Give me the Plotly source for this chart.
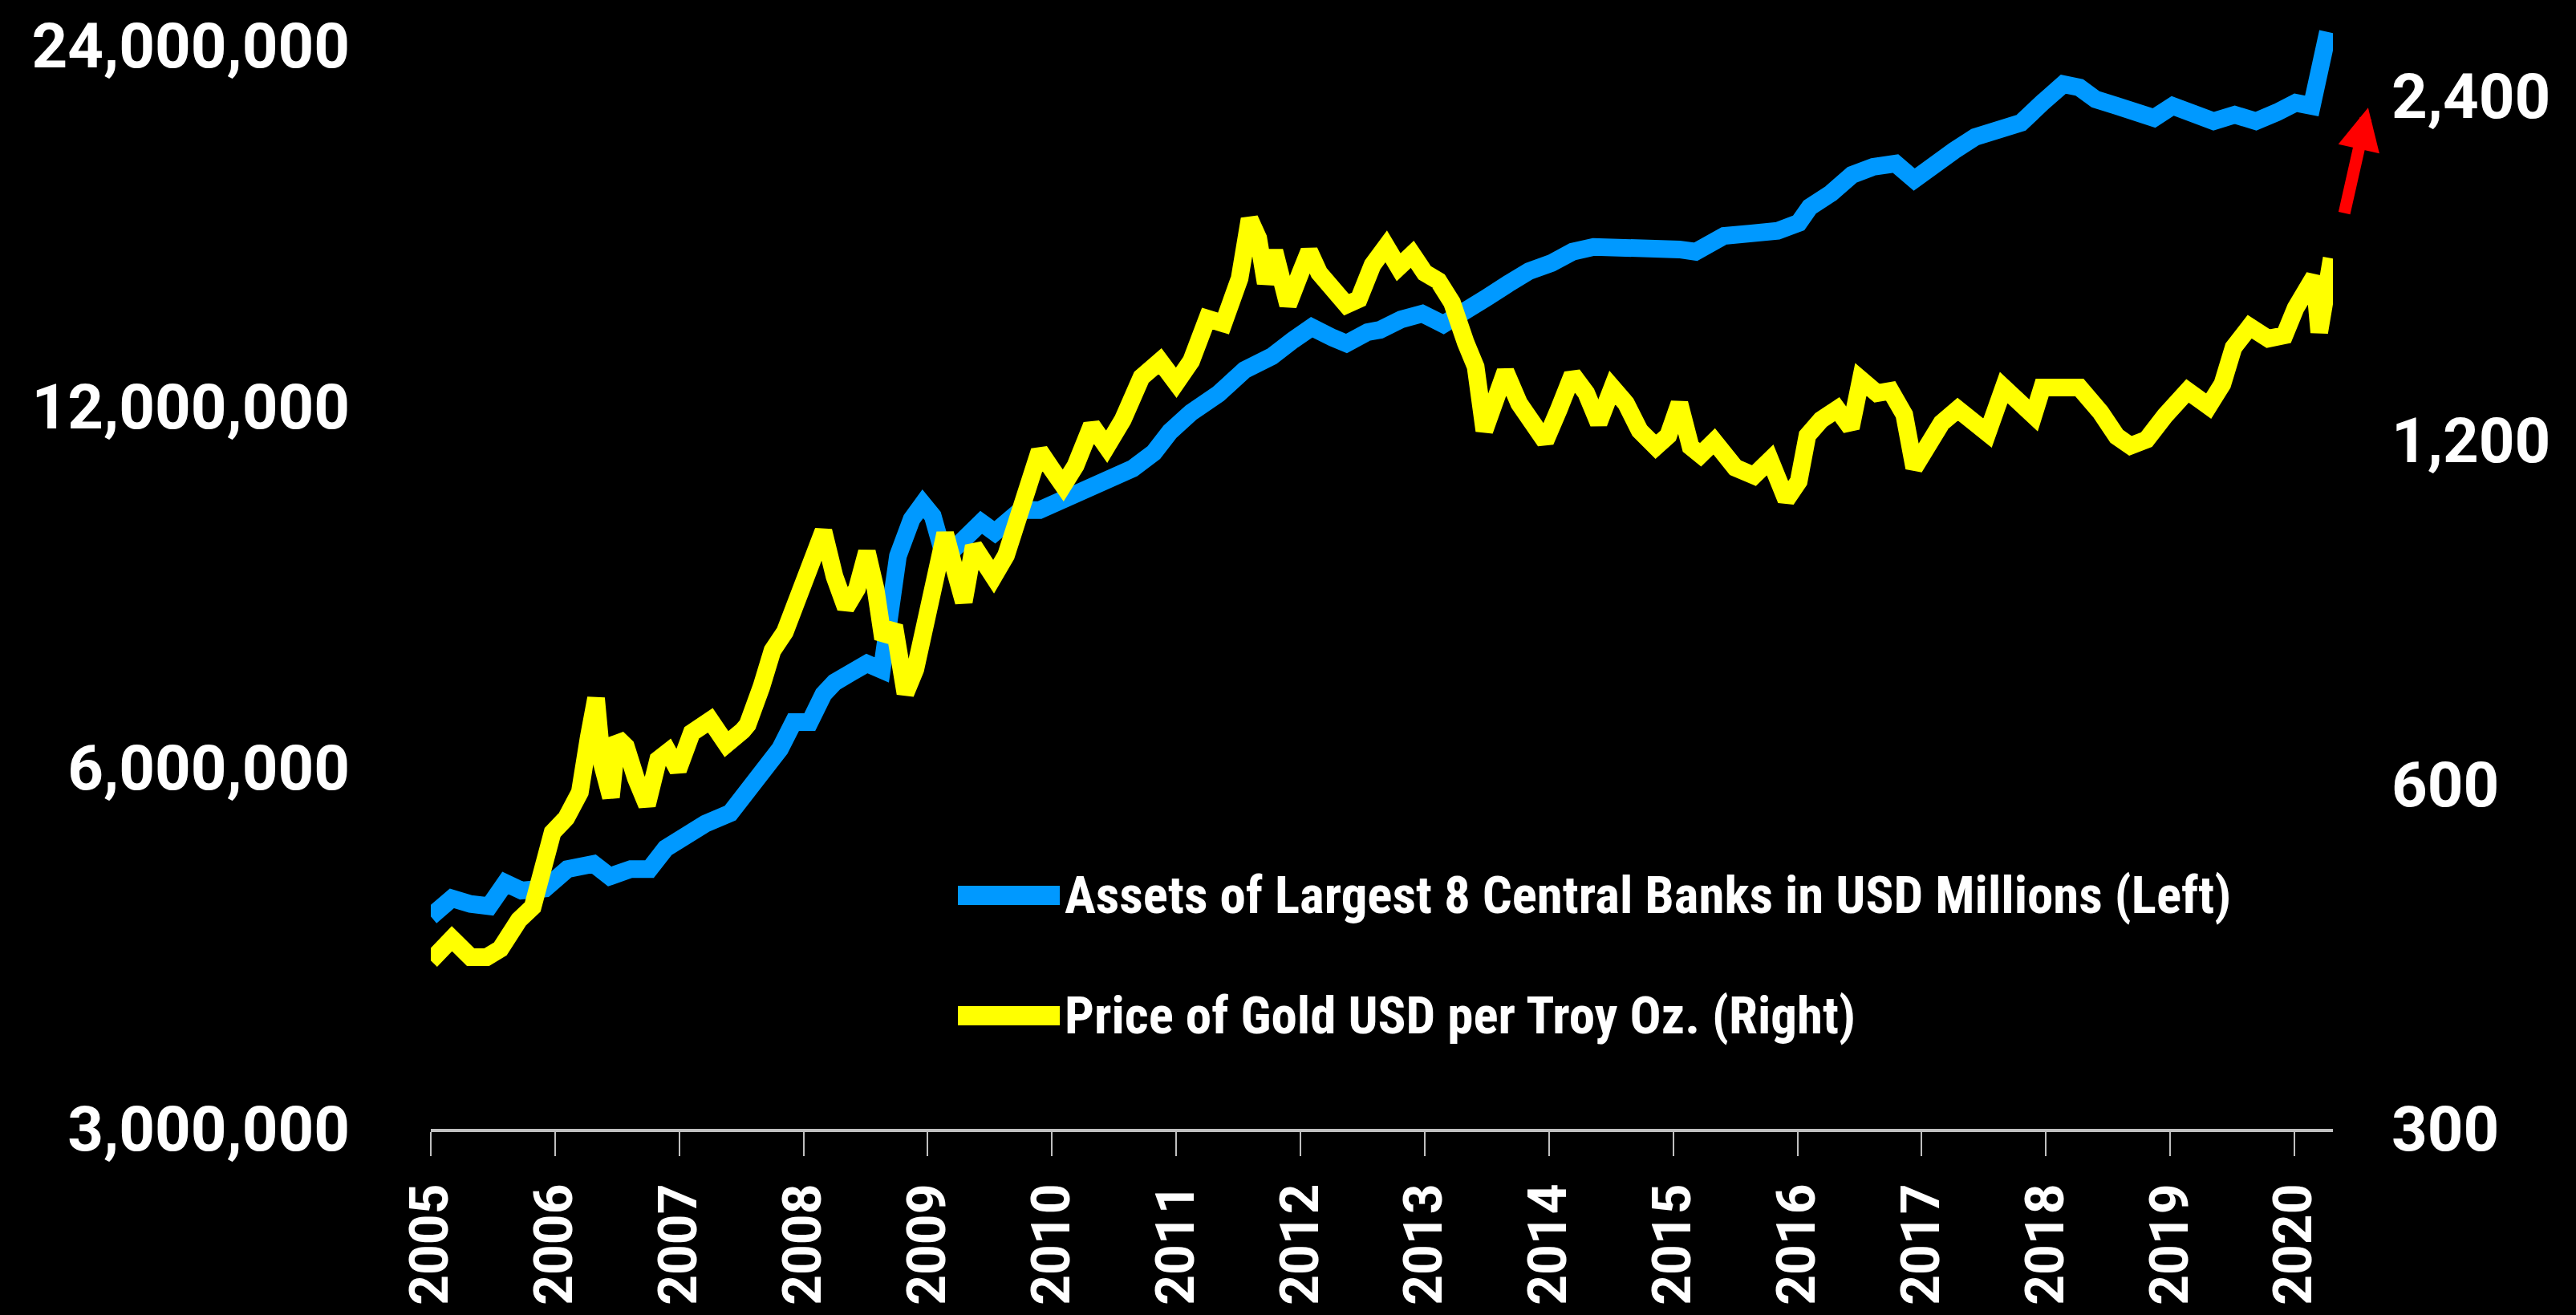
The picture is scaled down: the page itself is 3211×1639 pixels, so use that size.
import plotly.graph_objects as go

# Assets of the largest 8 central banks, USD millions (left axis)
asset_dates = [
    2005.00, 2005.17, 2005.32, 2005.47, 2005.60, 2005.73, 2005.92, 2006.10, 2006.31, 2006.44,
    2006.61, 2006.76, 2006.89, 2007.04, 2007.21, 2007.41, 2007.60, 2007.69, 2007.81, 2007.92,
    2008.05, 2008.16, 2008.25, 2008.38, 2008.51, 2008.63, 2008.70, 2008.76, 2008.87, 2008.96,
    2009.04, 2009.11, 2009.20, 2009.30, 2009.43, 2009.54, 2009.65, 2009.75, 2009.90, 2010.07,
    2010.22, 2010.44, 2010.65, 2010.82, 2010.95, 2011.12, 2011.34, 2011.55, 2011.77, 2011.94,
    2012.09, 2012.26, 2012.37, 2012.54, 2012.64, 2012.81, 2012.98, 2013.15, 2013.33, 2013.50,
    2013.67, 2013.84, 2014.02, 2014.19, 2014.36, 2014.54, 2014.71, 2014.88, 2015.05, 2015.18,
    2015.27, 2015.41, 2015.63, 2015.84, 2016.01, 2016.10, 2016.27, 2016.44, 2016.61, 2016.79,
    2016.94, 2017.09, 2017.26, 2017.43, 2017.60, 2017.80, 2017.97, 2018.14, 2018.27, 2018.40,
    2018.57, 2018.74, 2018.87, 2019.02, 2019.17, 2019.35, 2019.52, 2019.69, 2019.86, 2020.01,
    2020.14, 2020.20, 2020.24, 2020.27,
]
asset_values = [
    4510000, 4670000, 4620000, 4600000, 4810000, 4740000, 4760000, 4940000, 4990000, 4870000,
    4940000, 4940000, 5140000, 5260000, 5390000, 5500000, 5800000, 6010000, 6220000, 6550000,
    6550000, 6910000, 7070000, 7200000, 7330000, 7240000, 8000000, 9010000, 9670000, 9960000,
    9730000, 9170000, 9110000, 9340000, 9610000, 9430000, 9670000, 9840000, 9840000, 10020000,
    10110000, 10330000, 10660000, 10990000, 11440000, 11870000, 12300000, 12880000, 13220000, 13640000,
    13980000, 13700000, 13550000, 13850000, 13910000, 14190000, 14350000, 14060000, 14500000, 14800000,
    15190000, 15570000, 15810000, 16160000, 16310000, 16310000, 16310000, 16230000, 16230000, 16160000,
    16400000, 16660000, 16740000, 16820000, 17080000, 17610000, 18080000, 18730000, 19020000, 19140000,
    18560000, 19140000, 19620000, 20140000, 20450000, 20700000, 21510000, 22290000, 22150000, 21650000,
    21380000, 21120000, 20890000, 21380000, 21120000, 20760000, 21020000, 20760000, 21120000, 21510000,
    21380000, 22530000, 23930000, 24640000,
]

# Price of gold, USD per troy ounce (right axis)
gold_dates = [
    2005.00, 2005.17, 2005.32, 2005.45, 2005.56, 2005.71, 2005.82, 2005.90, 2005.98, 2006.09,
    2006.20, 2006.27, 2006.33, 2006.38, 2006.45, 2006.50, 2006.57, 2006.65, 2006.74, 2006.83,
    2006.91, 2006.99, 2007.10, 2007.25, 2007.38, 2007.51, 2007.55, 2007.66, 2007.75, 2007.85,
    2007.96, 2008.07, 2008.16, 2008.25, 2008.34, 2008.43, 2008.51, 2008.58, 2008.64, 2008.73,
    2008.82, 2008.90, 2008.99, 2009.08, 2009.14, 2009.20, 2009.29, 2009.37, 2009.46, 2009.53,
    2009.63, 2009.74, 2009.83, 2009.90, 2010.00, 2010.09, 2010.19, 2010.32, 2010.44, 2010.57,
    2010.72, 2010.87, 2011.00, 2011.12, 2011.25, 2011.38, 2011.51, 2011.59, 2011.66, 2011.72,
    2011.79, 2011.90, 2012.00, 2012.07, 2012.15, 2012.26, 2012.37, 2012.47, 2012.58, 2012.69,
    2012.79, 2012.90, 2013.00, 2013.11, 2013.22, 2013.33, 2013.41, 2013.48, 2013.57, 2013.65,
    2013.76, 2013.86, 2013.97, 2014.08, 2014.19, 2014.30, 2014.40, 2014.51, 2014.62, 2014.73,
    2014.86, 2014.96, 2015.05, 2015.14, 2015.22, 2015.33, 2015.50, 2015.65, 2015.78, 2015.91,
    2016.01, 2016.08, 2016.19, 2016.32, 2016.43, 2016.51, 2016.64, 2016.75, 2016.86, 2016.94,
    2017.05, 2017.16, 2017.29, 2017.42, 2017.53, 2017.66, 2017.81, 2017.90, 2017.97, 2018.12,
    2018.27, 2018.44, 2018.57, 2018.68, 2018.81, 2018.96, 2019.14, 2019.31, 2019.42, 2019.51,
    2019.64, 2019.79, 2019.92, 2020.01, 2020.10, 2020.16, 2020.20, 2020.27, 2020.30,
]
gold_prices = [
    421, 440, 424, 424, 431, 457, 469, 503, 545, 561,
    591, 659, 714, 625, 585, 659, 648, 608, 576, 631,
    641, 618, 666, 683, 651, 669, 677, 730, 786, 816,
    878, 940, 1000, 912, 857, 890, 959, 890, 805, 826,
    721, 757, 841, 952, 995, 940, 867, 970, 934, 912,
    952, 1037, 1110, 1175, 1132, 1096, 1141, 1237, 1185, 1251,
    1363, 1408, 1348, 1408, 1534, 1519, 1663, 1874, 1803, 1647,
    1757, 1577, 1682, 1757, 1682, 1621, 1577, 1595, 1709, 1774,
    1701, 1746, 1682, 1655, 1584, 1461, 1392, 1224, 1320, 1379,
    1293, 1243, 1198, 1278, 1370, 1320, 1243, 1335, 1293, 1224,
    1185, 1212, 1293, 1185, 1166, 1198, 1136, 1118, 1154, 1065,
    1105, 1212, 1251, 1278, 1231, 1357, 1320, 1326, 1264, 1136,
    1198, 1243, 1278, 1251, 1218, 1335, 1293, 1262, 1335, 1335,
    1335, 1270, 1210, 1187, 1202, 1262, 1326, 1286, 1344, 1447,
    1509, 1473, 1483, 1567, 1618, 1669, 1492, 1669, 1732,
]

years = list(range(2005, 2021))
left_ticks = [3000000, 6000000, 12000000, 24000000]
right_ticks = [300, 600, 1200, 2400]

asset_name = 'Assets of Largest 8 Central Banks in USD Millions (Left)'
gold_name = 'Price of Gold USD per Troy Oz. (Right)'

BLUE = '#0099FF'
YELLOW = '#FFFF00'
NUM_FONT = 'Roboto, Arial, sans-serif'
TEXT_FONT = 'Liberation Sans Narrow, Roboto Condensed, Roboto, sans-serif'

fig = go.Figure()

fig.add_trace(go.Scatter(
    x=asset_dates, y=asset_values, name=asset_name, mode='lines',
    line=dict(color=BLUE, width=22), yaxis='y'
))
fig.add_trace(go.Scatter(
    x=gold_dates, y=gold_prices, name=gold_name, mode='lines',
    line=dict(color=YELLOW, width=22), yaxis='y2'
))

# hand-made legend (long thick swatches like the original)
legend_rows = [(asset_name, BLUE, 0.2106), (gold_name, YELLOW, 0.1020)]
for label, color, ypos in legend_rows:
    fig.add_shape(type='line', xref='paper', yref='paper',
                  x0=0.2771, x1=0.3307, y0=ypos, y1=ypos,
                  line=dict(color=color, width=24))
    fig.add_annotation(text=label, xref='paper', yref='paper',
                       x=0.3325, y=ypos, xanchor='left', yanchor='middle',
                       showarrow=False,
                       font=dict(family=TEXT_FONT, size=65, color='white', weight='bold'))

# red arrow on the right
fig.add_annotation(xref='paper', yref='paper', x=1.0185, y=0.921,
                   ax=-30, ay=133, text='', showarrow=True,
                   arrowhead=2, arrowsize=0.7, arrowwidth=15, arrowcolor='#FF0000')

fig.update_layout(
    width=3211, height=1639,
    margin=dict(l=537, r=303, t=25, b=232),
    paper_bgcolor='black', plot_bgcolor='black',
    showlegend=False,
    xaxis=dict(
        range=[2005, 2020.31], tickvals=years, ticktext=[str(y) for y in years],
        tickangle=-90, showgrid=False, zeroline=False, automargin=False,
        showline=True, linecolor='#BFBFBF', linewidth=4,
        ticks='outside', ticklen=30, tickwidth=2, tickcolor='#BFBFBF',
        ticklabelstandoff=8,
        tickfont=dict(family=NUM_FONT, size=66, color='white', weight='bold'),
    ),
    yaxis=dict(
        type='log', range=[6.47712, 7.40160], automargin=False,
        tickvals=left_ticks, ticktext=[f'{v:,}' for v in left_ticks],
        showgrid=False, zeroline=False, showline=False, ticks='',
        ticklabelstandoff=100,
        tickfont=dict(family=NUM_FONT, size=78, color='white', weight='bold'),
    ),
    yaxis2=dict(
        type='log', range=[2.47712, 3.44688], overlaying='y', side='right',
        automargin=False,
        tickvals=right_ticks, ticktext=[f'{v:,}' for v in right_ticks],
        showgrid=False, zeroline=False, showline=False, ticks='',
        ticklabelstandoff=72,
        tickfont=dict(family=NUM_FONT, size=78, color='white', weight='bold'),
    ),
)

# drop the default page margin so the figure sits at the window's corner
fig.write_html('out.html',
               config={'displayModeBar': False},
               post_script="document.body.style.margin='0';"
                           "document.body.style.background='black';")
